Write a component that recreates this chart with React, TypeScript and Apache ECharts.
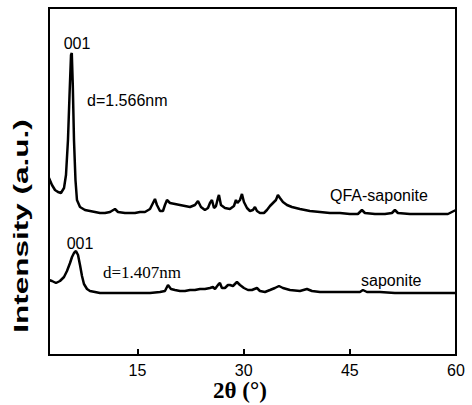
import React, { useEffect, useRef } from "react";
import * as echarts from "echarts";

// 2θ (degrees) and intensity (a.u.)
const qfaTheta = [2.5, 2.92, 3.35, 3.77, 4.19, 4.62, 4.9, 5.18, 5.4, 5.61, 5.72, 5.86, 6.03, 6.24, 6.45, 6.88, 7.58, 8.29, 9.0, 9.7, 10.41, 11.12, 11.82, 12.25, 13.23, 13.94, 14.65, 15.35, 16.06, 16.77, 17.19, 17.47, 17.75, 18.18, 18.6, 18.88, 19.17, 19.59, 20.3, 21.0, 21.71, 22.42, 23.12, 23.55, 23.97, 24.53, 24.96, 25.24, 25.52, 25.81, 26.09, 26.37, 26.51, 26.79, 27.36, 28.06, 28.63, 28.91, 29.12, 29.48, 29.76, 30.04, 30.47, 30.89, 31.31, 31.6, 31.88, 32.3, 32.87, 33.29, 33.72, 34.14, 34.56, 34.84, 35.13, 35.55, 36.12, 36.82, 37.95, 39.36, 40.78, 42.19, 43.6, 45.01, 46.14, 46.71, 47.13, 48.55, 49.96, 50.95, 51.37, 51.79, 53.49, 54.9, 56.31, 57.73, 58.86, 59.42, 59.99];
const qfaIntensity = [177, 170, 165, 163, 162, 167, 180, 215, 260, 300, 302, 270, 215, 175, 155, 148, 145, 144, 143, 142, 142, 143, 146, 143, 142, 142, 142, 143, 143, 146, 152, 156, 150, 144, 144, 150, 155, 152, 151, 150, 149, 148, 150, 154, 148, 145, 147, 152, 155, 147, 149, 157, 160, 150, 147, 146, 149, 155, 152, 155, 161, 153, 147, 144, 145, 148, 144, 142, 142, 145, 149, 152, 155, 160, 157, 153, 150, 148, 146, 144, 143, 142, 142, 141, 141, 145, 142, 141, 141, 142, 145, 142, 141, 141, 141, 141, 141, 143, 145];

const sapTheta = [2.5, 2.92, 3.49, 4.05, 4.62, 5.04, 5.47, 5.75, 6.03, 6.31, 6.6, 6.88, 7.16, 7.44, 7.87, 8.29, 9.0, 9.7, 11.12, 12.53, 13.94, 15.35, 16.77, 18.18, 18.88, 19.31, 19.73, 20.3, 21.0, 21.71, 22.42, 23.12, 23.83, 24.53, 25.24, 25.66, 25.95, 26.37, 26.65, 26.93, 27.36, 27.78, 28.06, 28.49, 29.05, 29.48, 30.04, 30.61, 31.17, 31.88, 32.3, 33.01, 33.72, 34.42, 34.99, 35.55, 36.54, 37.95, 38.94, 39.65, 40.78, 42.9, 45.01, 46.43, 46.85, 47.42, 49.25, 51.37, 53.49, 55.61, 57.73, 59.99];
const sapIntensity = [75, 74, 72, 74, 78, 84, 92, 98, 102, 104, 100, 90, 79, 71, 66, 64, 63, 62, 62, 62, 62, 62, 62, 63, 64, 70, 66, 65, 64, 64, 65, 65, 66, 66, 67, 68, 66, 70, 72, 67, 67, 70, 70, 69, 73, 70, 67, 65, 65, 67, 64, 63, 65, 67, 69, 67, 65, 64, 66, 64, 63, 63, 63, 63, 65, 63, 63, 62, 62, 62, 62, 62];

const xTicks = [15, 30, 45, 60];

const SANS = '"Liberation Sans", Arial, Helvetica, sans-serif';
const SERIF = '"Liberation Serif", "Times New Roman", serif';

export default function App() {
  const ref = useRef<HTMLDivElement>(null);
  useEffect(() => {
    document.body.style.margin = "0";
    const chart = echarts.init(ref.current!, null, { renderer: "svg" });
    const qfa = qfaTheta.map((t, i) => [t, qfaIntensity[i]]);
    const sap = sapTheta.map((t, i) => [t, sapIntensity[i]]);
    const label = (text: string, x: number, y: number, align: string, family: string, size = 16) => ({
      type: "text",
      x,
      y,
      style: {
        text,
        x: 0,
        y: 0,
        fill: "#000",
        fontSize: size,
        fontFamily: family,
        textAlign: align,
        textVerticalAlign: "middle",
      },
    });
    chart.setOption({
      animation: false,
      backgroundColor: "#fff",
      grid: {
        left: 49,
        right: 16,
        top: 8,
        bottom: 50,
        show: true,
        borderColor: "#000",
        borderWidth: 2,
      },
      xAxis: {
        type: "value",
        min: 2.5,
        max: 60,
        axisLine: { show: true, lineStyle: { color: "#000", width: 2 } },
        axisTick: {
          show: true,
          inside: true,
          length: 6,
          lineStyle: { color: "#000", width: 2 },
          customValues: xTicks,
        },
        axisLabel: {
          color: "#000",
          fontSize: 16,
          fontFamily: SANS,
          margin: 7,
          customValues: xTicks,
        },
        splitLine: { show: false },
      },
      yAxis: {
        type: "value",
        min: 0,
        max: 347,
        axisLine: { show: false },
        axisTick: { show: false },
        axisLabel: { show: false },
        splitLine: { show: false },
      },
      series: [
        {
          type: "line",
          data: qfa,
          showSymbol: false,
          lineStyle: { color: "#000", width: 2.5 },
        },
        {
          type: "line",
          data: sap,
          showSymbol: false,
          lineStyle: { color: "#000", width: 2.5 },
        },
      ],
      graphic: [
        label("001", 77, 43, "center", SANS),
        label("d=1.566nm", 87, 100, "left", SANS),
        label("QFA-saponite", 330, 195, "left", SANS),
        label("001", 80, 243, "center", SANS),
        label("d=1.407nm", 103, 272, "left", SERIF, 17),
        label("saponite", 361, 280, "left", SANS),
        {
          type: "text",
          x: 240,
          y: 390,
          style: {
            text: "2θ (°)",
            x: 0,
            y: 0,
            fill: "#000",
            fontSize: 23,
            fontWeight: "bold",
            fontFamily: SERIF,
            textAlign: "center",
            textVerticalAlign: "middle",
          },
        },
        {
          type: "text",
          x: 21,
          y: 226,
          rotation: Math.PI / 2,
          scaleX: 1.5,
          style: {
            text: "Intensity (a.u.)",
            x: 0,
            y: 0,
            fill: "#000",
            fontSize: 21,
            fontWeight: "bold",
            fontFamily: SANS,
            textAlign: "center",
            textVerticalAlign: "middle",
          },
        },
      ],
    });
    return () => chart.dispose();
  }, []);
  return (
    <div
      ref={ref}
      style={{ position: "absolute", left: 0, top: 0, width: 472, height: 405 }}
    />
  );
}
